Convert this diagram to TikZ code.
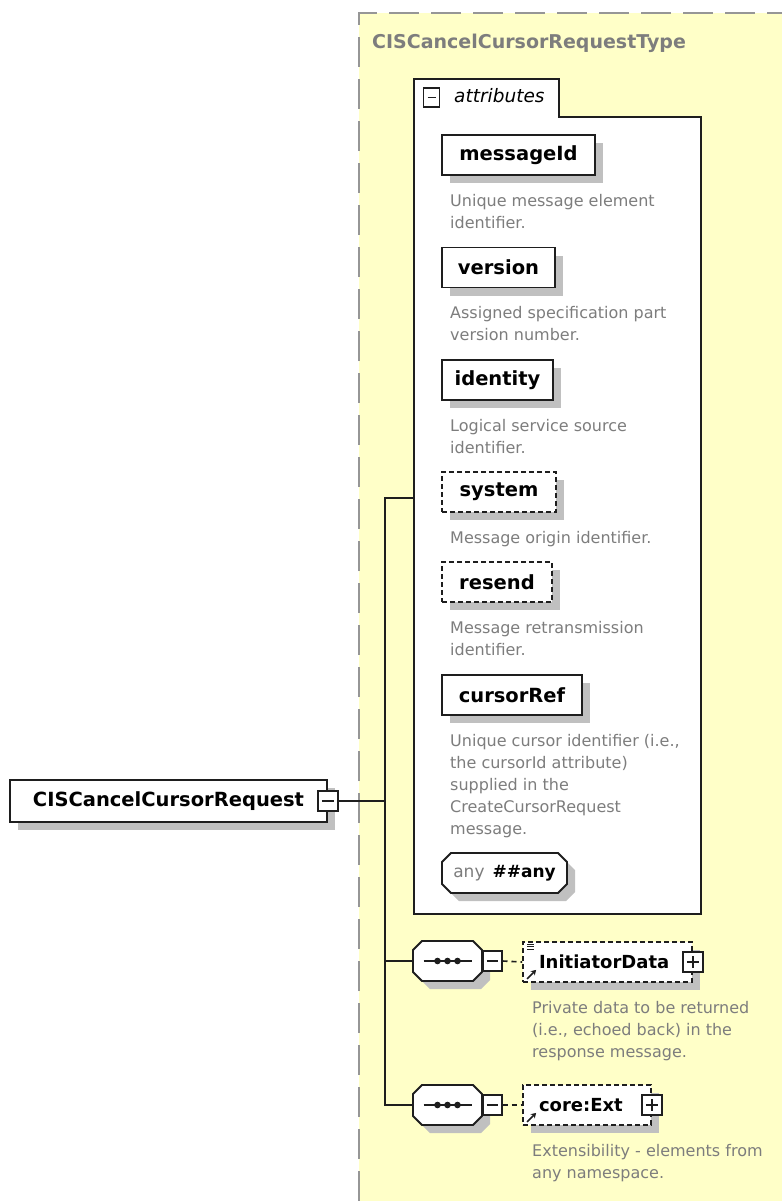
\documentclass[tikz,border=0pt]{standalone}
\usepackage{fontspec}
\setmainfont{DejaVu Sans}
\usetikzlibrary{shadows,arrows.meta}

\definecolor{typefill}{RGB}{255,255,200}
\definecolor{typeline}{RGB}{150,150,150}
\definecolor{shadowgray}{RGB}{192,192,192}
\definecolor{doctext}{RGB}{125,125,125}
\definecolor{ink}{RGB}{30,30,30}

\tikzset{
  elem/.style={draw=ink, line width=1.8pt, fill=white, minimum height=40pt,
    inner xsep=0pt, font=\fontsize{19.5}{22}\selectfont\bfseries,
    drop shadow={shadow xshift=8pt, shadow yshift=-8pt, fill=shadowgray, opacity=1}},
  optelem/.style={elem, dash pattern=on 5pt off 3pt},
  doc/.style={anchor=north west, inner sep=0pt, text=doctext,
    font=\fontsize{16}{22}\selectfont, align=left},
  link/.style={draw=ink, line width=1.6pt},
  optlink/.style={link, dash pattern=on 5pt off 4pt},
  refmark/.style={ink, line width=1.6pt, -{Stealth[length=5pt, width=6pt]}},
  expbox/.style={draw=ink, fill=white, line width=1.3pt, minimum width=20pt,
    minimum height=20pt, inner sep=0pt},
  minusbox/.style={expbox, path picture={
    \draw[ink, line width=1.3pt] ([xshift=4pt]path picture bounding box.west)
      -- ([xshift=-4pt]path picture bounding box.east);}},
  plusbox/.style={expbox, path picture={
    \draw[ink, line width=1.3pt] ([xshift=4pt]path picture bounding box.west)
      -- ([xshift=-4pt]path picture bounding box.east);
    \draw[ink, line width=1.3pt] ([yshift=-4pt]path picture bounding box.north)
      -- ([yshift=4pt]path picture bounding box.south);}},
  pics/octo/.style args={#1x#2}{code={
    \fill[shadowgray, shift={(8,8)}] ({-#1/2},{-#2/2+9}) -- ({-#1/2+9},{-#2/2})
      -- ({#1/2-9},{-#2/2}) -- ({#1/2},{-#2/2+9}) -- ({#1/2},{#2/2-9})
      -- ({#1/2-9},{#2/2}) -- ({-#1/2+9},{#2/2}) -- ({-#1/2},{#2/2-9}) -- cycle;
    \draw[ink, line width=1.8pt, fill=white] ({-#1/2},{-#2/2+9}) -- ({-#1/2+9},{-#2/2})
      -- ({#1/2-9},{-#2/2}) -- ({#1/2},{-#2/2+9}) -- ({#1/2},{#2/2-9})
      -- ({#1/2-9},{#2/2}) -- ({-#1/2+9},{#2/2}) -- ({-#1/2},{#2/2-9}) -- cycle;
    \node[inner sep=0pt, minimum width=#1pt, minimum height=#2pt] (-box) {};
  }},
  pics/seqicon/.style={code={
    \pic (-o) {octo=69x40};
    \draw[ink, line width=1.5pt] (-24,0) -- (24,0);
    \foreach \dx in {-10,0,10}
      \fill[ink] (\dx,0) circle (3.3pt);
  }},
}

\begin{document}
\begin{tikzpicture}[x=1pt, y=-1pt]
  \useasboundingbox (0,0) rectangle (782,1201);

  % complex type area
  \fill[typefill] (359,13) rectangle (782,1201);
  \draw[typeline, line width=2pt, dash pattern=on 30pt off 12pt]
    (359,1201) -- (359,13) -- (782,13);
  \node[anchor=base west, inner sep=0pt, text=doctext,
    font=\fontsize{19}{22}\selectfont\bfseries] (typeName) at (372,49)
    {CISCancelCursorRequestType};

  % attributes group
  \draw[ink, line width=1.8pt, fill=white]
    (414,117) -- (414,79) -- (559,79) -- (559,117) -- (701,117)
    -- (701,914) -- (414,914) -- cycle;
  \node[minusbox, minimum width=16pt, minimum height=19pt] (attrExp) at (431.5,97.5) {};
  \node[anchor=base west, inner sep=0pt, font=\fontsize{18.5}{22}\selectfont\itshape]
    (attrLabel) at (454,103) {attributes};

  \node[elem, minimum width=153pt] (messageId) at (518.5,155) {messageId};
  \node[doc] (messageIdDoc) at (450,194) {Unique message element\\identifier.};

  \node[elem, minimum width=113pt] (version) at (498.5,267.5) {version};
  \node[doc] (versionDoc) at (450,306) {Assigned specification part\\version number.};

  \node[elem, minimum width=111pt] (identity) at (497.5,380) {identity};
  \node[doc] (identityDoc) at (450,419) {Logical service source\\identifier.};

  \node[optelem, minimum width=114pt] (system) at (499,492) {system};
  \node[doc] (systemDoc) at (450,531) {Message origin identifier.};

  \node[optelem, minimum width=110pt] (resend) at (497,582) {resend};
  \node[doc] (resendDoc) at (450,621) {Message retransmission\\identifier.};

  \node[elem, minimum width=140pt] (cursorRef) at (512,695) {cursorRef};
  \node[doc] (cursorRefDoc) at (450,734) {Unique cursor identifier (i.e.,\\the cursorId attribute)\\supplied in the\\CreateCursorRequest\\message.};

  \pic (anyAttr) at (504.5,873) {octo=125x40};
  \node[font=\fontsize{17}{20}\selectfont] (anyText) at (anyAttr-box)
    {\textcolor{doctext}{any}\hspace{8pt}\textbf{\#\#any}};

  % root element
  \node[elem, minimum width=317pt, minimum height=42pt] (root) at (168.5,801)
    {CISCancelCursorRequest};
  \node[minusbox] (rootExp) at (root.east) {};

  % sequences
  \pic (seqA) at (447.5,961) {seqicon};
  \node[minusbox, anchor=west, minimum width=19pt] (seqAExp) at (seqA-o-box.east) {};
  \node[optelem, text width=137pt, inner xsep=16pt, align=left,
    font=\fontsize{18}{22}\selectfont\bfseries] (initiator) at (607.5,962) {InitiatorData};
  \node[plusbox] (initiatorExp) at (initiator.east) {};
  \node[doc] (initiatorDoc) at (532,1001) {Private data to be returned\\(i.e., echoed back) in the\\response message.};

  \pic (seqB) at (447.5,1105) {seqicon};
  \node[minusbox, anchor=west, minimum width=19pt] (seqBExp) at (seqB-o-box.east) {};
  \node[optelem, text width=96pt, inner xsep=16pt, align=left,
    font=\fontsize{18}{22}\selectfont\bfseries] (coreExt) at (587,1105) {core:Ext};
  \node[plusbox] (coreExtExp) at (coreExt.east) {};
  \node[doc] (coreExtDoc) at (532,1144) {Extensibility - elements from\\any namespace.};

  % reference marks
  \foreach \k in {0,1,2}
    \draw[ink, line width=0.8pt] ([xshift=5pt, yshift=-3pt-\k*2.5pt]initiator.north west) -- ++(7,0);
  \draw[refmark] ([xshift=5pt, yshift=4pt]initiator.south west) -- ++(9,-9);
  \draw[refmark] ([xshift=5pt, yshift=4pt]coreExt.south west) -- ++(9,-9);

  % connectors
  \coordinate (attrIn) at (414,498);
  \coordinate (busTop) at (385,498);
  \coordinate (busBot) at (385,1105);
  \draw[link] (attrIn) -- (busTop) -- (busBot) -- (seqB-o-box.west);
  \draw[link] (rootExp.east) -- (rootExp.east -| busTop);
  \draw[link] (seqA-o-box.west) -- (seqA-o-box.west -| busTop);
  \draw[optlink] (seqAExp.east) -- (initiator.west);
  \draw[optlink] (seqBExp.east) -- (coreExt.west);
\end{tikzpicture}
\end{document}
